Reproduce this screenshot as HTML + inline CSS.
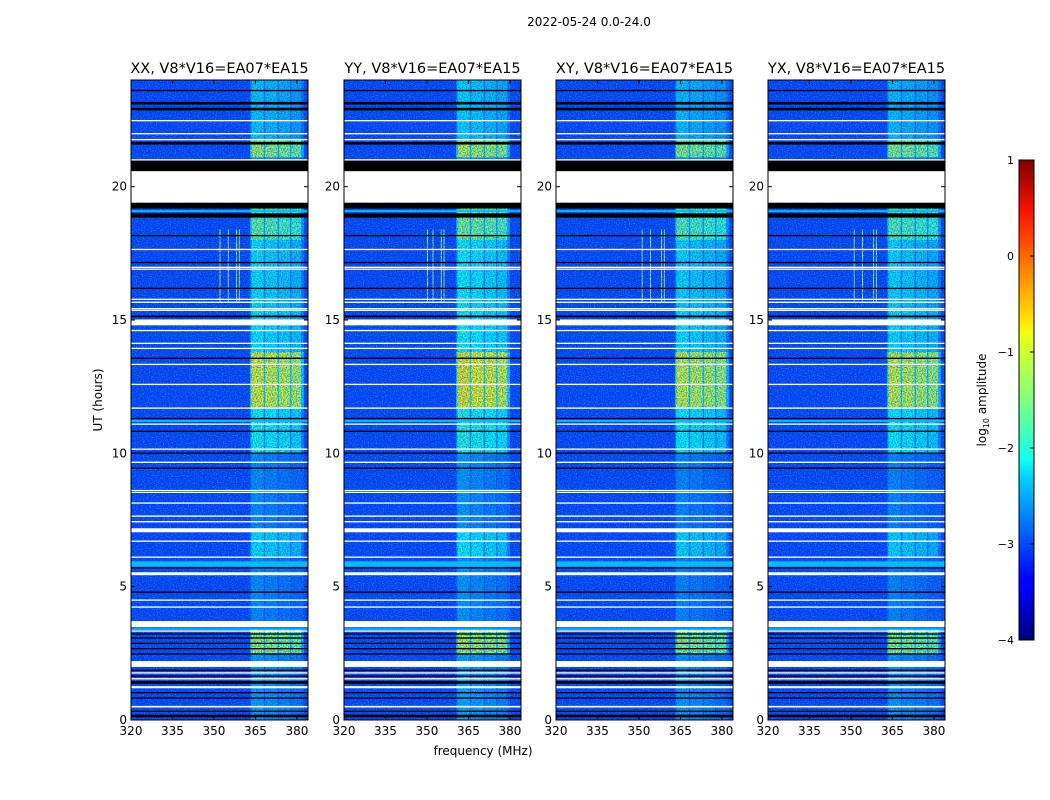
<!DOCTYPE html>
<html><head><meta charset="utf-8">
<style>
html,body{margin:0;padding:0;background:#fff;}
svg{display:block;font-family:"DejaVu Sans","Liberation Sans",sans-serif;}
</style></head>
<body>
<svg id="fig" width="1050" height="800" viewBox="0 0 1050 800" xmlns="http://www.w3.org/2000/svg">
<defs>
<filter id="noise" x="0" y="0" width="100%" height="100%">
<feTurbulence type="fractalNoise" baseFrequency="0.8" numOctaves="1" seed="3"/>
<feColorMatrix type="matrix" values="0 0 0 0 0  0 0 0 0 0.08  0 0 0 0 0.55  3 0 0 0 -1.1"/>
</filter>
<filter id="noise2" x="0" y="0" width="100%" height="100%">
<feTurbulence type="fractalNoise" baseFrequency="0.85" numOctaves="1" seed="11"/>
<feColorMatrix type="matrix" values="0 0 0 0 0.1  0 0 0 0 0.7  0 0 0 0 1  3 0 0 0 -1.35"/>
</filter>
<linearGradient id="jet" x1="0" y1="1" x2="0" y2="0">
<stop offset="0" stop-color="#00007f"/><stop offset="0.11" stop-color="#0000ff"/>
<stop offset="0.125" stop-color="#0000ff"/><stop offset="0.34" stop-color="#00d4ff"/>
<stop offset="0.375" stop-color="#0fffee"/><stop offset="0.5" stop-color="#7fff7f"/>
<stop offset="0.64" stop-color="#f0ff0f"/><stop offset="0.66" stop-color="#ffea00"/>
<stop offset="0.89" stop-color="#ff1300"/><stop offset="1" stop-color="#7f0000"/>
</linearGradient>
</defs>
<text x="589" y="26" font-size="12" text-anchor="middle">2022-05-24 0.0-24.0</text>
<g id="panels"></g>
<text x="0" y="0" font-size="12" text-anchor="middle" transform="translate(102,400) rotate(-90)">UT (hours)</text>
<text x="483" y="755" font-size="12" text-anchor="middle">frequency (MHz)</text>
<g>
<rect x="1019" y="160" width="15" height="480" fill="url(#jet)" stroke="#000" stroke-width="1"/>
</g>
<g id="cbticks"></g>
<text font-size="12" text-anchor="middle" transform="translate(986,400) rotate(-90)">log<tspan font-size="8" dy="3">10</tspan><tspan dy="-3"> amplitude</tspan></text>
</svg>
<script>
// ---- data ----
const panelTitles = ["XX, V8*V16=EA07*EA15","YY, V8*V16=EA07*EA15","XY, V8*V16=EA07*EA15","YX, V8*V16=EA07*EA15"];
const panelBandStart = [363.5, 361, 363.5, 363.5];
const panelBandGain = [1.0, 1.05, 0.97, 0.97];
const xTicks = [320,335,350,365,380];
const yTicks = [0,5,10,15,20];
const cbTicks = [1,0,-1,-2,-3,-4];
// band intensity segments (hours start, end, normalized level 0..1)
const segStart = [0, 2.5, 3.5, 6.1, 7.2, 10.0, 11.7, 13.8, 15.5, 18.0, 19.4, 21.1, 21.8];
const segEnd   = [2.5, 3.4, 6.1, 7.2, 10.0, 11.7, 13.8, 15.5, 18.0, 19.4, 21.1, 21.8, 24];
const segLevel = [0.28, 0.54, 0.26, 0.36, 0.26, 0.39, 0.61, 0.37, 0.36, 0.48, 0.28, 0.54, 0.33];
// sub-columns within band (MHz offset from band start, width)
const colOffset = [0, 5, 10, 14.5];
const colWidth = [4.5, 4.5, 4, 3.5];
// white (flagged) rows
const whiteStart = [0.47,1.19,1.52,1.74,1.99,3.31,3.48,4.21,4.47,5.43,6.08,6.68,7.04,7.41,7.62,8.11,8.52,8.59,9.64,10.13,11.07,11.67,12.56,13.31,13.91,14.10,14.58,14.80,15.34,15.41,15.64,15.75,16.88,16.95,17.62,19.40,20.98,21.74,21.96,22.45];
const whiteEnd   = [0.53,1.27,1.57,1.79,2.21,3.36,3.71,4.26,4.52,5.54,6.13,6.73,7.19,7.46,7.67,8.16,8.56,8.63,9.69,10.18,11.12,11.72,12.61,13.36,13.96,14.15,14.63,15.02,15.39,15.45,15.69,15.80,16.93,17.00,17.67,20.58,21.03,21.79,22.01,22.50];
// black rows
const blackStart = [0.1,0.3,0.8,1.0,1.36,1.62,1.84,2.45,2.65,2.85,3.05,3.2,4.77,5.68,9.42,9.98,10.8,11.28,13.54,15.1,16.16,17.13,18.14,18.84,19.18,20.58,21.58,22.86,23.08,23.58];
const blackEnd   = [0.2,0.35,0.85,1.05,1.46,1.67,1.89,2.5,2.7,2.9,3.1,3.25,4.82,5.73,9.47,10.03,10.85,11.33,13.59,15.17,16.21,17.18,18.19,19.0,19.4,20.98,21.68,22.96,23.18,23.63];
// bright cyan rows
const cyanStart = [5.75, 11.18, 19.05, 3.38];
const cyanEnd = [5.95, 11.26, 19.12, 3.44];
// narrow spectral spikes in 15.7-18.4 h (MHz)
const spikeFreq = [[352,355,358,359],[350,352,355,356],[351,354,358,359],[351,354,358,359]];

// ---- layout ----
const panelX = [131,344,556,768];
const PW = 177, PT = 80, PB = 720;
const F0 = 320, F1 = 384, H0 = 0, H1 = 24;
function jet(v){v=Math.max(0,Math.min(1,v));
 const r=Math.max(0,Math.min(1,1.5-Math.abs(4*v-3))),g=Math.max(0,Math.min(1,1.5-Math.abs(4*v-2))),b=Math.max(0,Math.min(1,1.5-Math.abs(4*v-1)));
 return `rgb(${Math.round(r*255)},${Math.round(g*255)},${Math.round(b*255)})`;}
const NS="http://www.w3.org/2000/svg";
function mk(tag,attrs,parent){const e=document.createElementNS(NS,tag);for(const k in attrs)e.setAttribute(k,attrs[k]);parent.appendChild(e);return e;}
const root=document.getElementById('panels');
panelX.forEach((px,pi)=>{
 const xs=f=>px+(f-F0)/(F1-F0)*PW;
 const ys=h=>PB-(h-H0)/(H1-H0)*(PB-PT);
 const g=mk('g',{},root);
 
 
 const bg=mk('rect',{x:px,y:PT,width:PW,height:PB-PT,fill:jet(0.18)},g);
 
 
 const bs=panelBandStart[pi], gain=panelBandGain[pi];
 segStart.forEach((s,si)=>{
  const lv=segLevel[si]*gain;
  const halo=mk('rect',{x:xs(bs-0.5),y:ys(segEnd[si]),width:xs(bs+19)-xs(bs-0.5),height:ys(s)-ys(segEnd[si]),fill:jet(0.18+(lv-0.18)*0.35)},g);
  
  
  colOffset.forEach((o,ci)=>{
   const c=mk('rect',{x:xs(bs+o),y:ys(segEnd[si]),width:xs(bs+o+colWidth[ci])-xs(bs+o),height:ys(s)-ys(segEnd[si]),fill:jet(lv-ci*0.015)},g);
   
   
  });
 });
 spikeFreq[pi].forEach(f=>{
  const sp=mk('rect',{x:xs(f),y:ys(18.4),width:1,height:ys(15.7)-ys(18.4),fill:jet(0.55)},g);
  
  
 });
 const nz=mk('rect',{x:px,y:PT,width:PW,height:PB-PT,filter:'url(#noise)',opacity:0.65},g);
 
 
 const nz2=mk('rect',{x:px,y:PT,width:PW,height:PB-PT,filter:'url(#noise2)',opacity:0.4},g);
 
 
 cyanStart.forEach((s,i)=>{
  const r=mk('rect',{x:px,y:ys(cyanEnd[i]),width:PW,height:ys(s)-ys(cyanEnd[i]),fill:jet(0.31)},g);
  
  
 });
 blackStart.forEach((s,i)=>{
  const r=mk('rect',{x:px,y:ys(blackEnd[i]),width:PW,height:Math.max(1,ys(s)-ys(blackEnd[i])),fill:'#000'},g);
  
  
 });
 whiteStart.forEach((s,i)=>{
  const r=mk('rect',{x:px,y:ys(whiteEnd[i]),width:PW,height:Math.max(1.2,ys(s)-ys(whiteEnd[i])),fill:'#fff'},g);
  
  
 });
 const fr=mk('rect',{x:px,y:PT,width:PW,height:PB-PT,fill:'none',stroke:'#000','stroke-width':1},g);
 
 
 const t=mk('text',{x:px+PW/2,y:PT-7,'font-size':14.5,'text-anchor':'middle'},g);
 t.textContent=panelTitles[pi];
 
 
 xTicks.forEach(v=>{
  const x=xs(v);
  mk('line',{x1:x,x2:x,y1:PB,y2:PB-4,stroke:'#000'},g);
  mk('line',{x1:x,x2:x,y1:PT,y2:PT+4,stroke:'#000'},g);
  const l=mk('text',{x:x,y:PB+15,'font-size':12,'text-anchor':'middle'},g);
  l.textContent=v;
  
  
 });
 yTicks.forEach(v=>{
  const y=ys(v);
  mk('line',{x1:px,x2:px+4,y1:y,y2:y,stroke:'#000'},g);
  mk('line',{x1:px+PW,x2:px+PW-4,y1:y,y2:y,stroke:'#000'},g);
  const l=mk('text',{x:px-4,y:y+4,'font-size':12,'text-anchor':'end'},g);
  l.textContent=v;
  
  
 });
});
const cb=document.getElementById('cbticks');
cbTicks.forEach(v=>{
 const y=640-(v+4)/5*480;
 mk('line',{x1:1030,x2:1034,y1:y,y2:y,stroke:'#000'},cb);
 const l=mk('text',{x:1014,y:y+4,'font-size':11,'text-anchor':'end'},cb);
 l.textContent=v<0?'\u2212'+(-v):v;
 
 
});
</script>
</body></html>
